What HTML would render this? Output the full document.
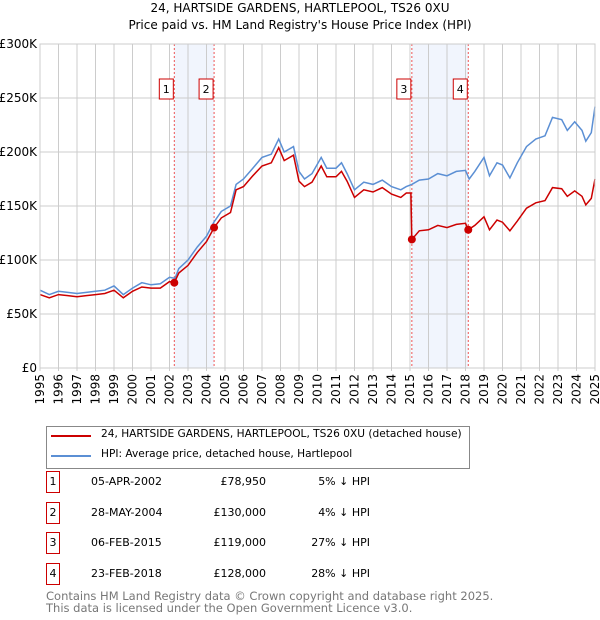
<!DOCTYPE html>
<html><head><meta charset="utf-8"><style>
body{margin:0;background:#fff;font-family:"DejaVu Sans","Liberation Sans",sans-serif;}
#wrap{position:relative;width:600px;height:620px;overflow:hidden}
.t{position:absolute;font-size:11px;color:#000;white-space:nowrap}
.box{position:absolute;border:1px solid #c00;width:12px;height:20px;text-align:center;font-size:11px;line-height:20px}
</style></head><body>
<div id="wrap">
<div class="t" style="left:0;width:600px;text-align:center;top:1px;font-size:12px">24, HARTSIDE GARDENS, HARTLEPOOL, TS26 0XU</div>
<div class="t" style="left:0;width:600px;text-align:center;top:18px;font-size:12px">Price paid vs. HM Land Registry's House Price Index (HPI)</div>
<svg id="chart" width="600" height="420" style="position:absolute;left:0;top:0;font-family:'DejaVu Sans',sans-serif"></svg>
<div style="position:absolute;left:46px;top:426px;width:422px;height:41px;border:1px solid #888"></div>
<div style="position:absolute;left:51px;top:435px;width:40px;height:2px;background:#c00"></div>
<div class="t" style="left:101px;top:428px;font-size:10.6px">24, HARTSIDE GARDENS, HARTLEPOOL, TS26 0XU (detached house)</div>
<div style="position:absolute;left:51px;top:455px;width:40px;height:2px;background:#5b8fd4"></div>
<div class="t" style="left:101px;top:448px;font-size:10.6px">HPI: Average price, detached house, Hartlepool</div>
<div id="tbl"></div>
<div class="t" style="left:46px;top:589px;color:#777;font-size:11.5px">Contains HM Land Registry data © Crown copyright and database right 2025.</div>
<div class="t" style="left:46px;top:601px;color:#777;font-size:11.5px">This data is licensed under the Open Government Licence v3.0.</div>
</div>
<script>
const hpiDates=[1995,1995.5,1996,1996.5,1997,1997.5,1998,1998.5,1999,1999.5,2000,2000.5,2001,2001.5,2002,2002.3,2002.5,2003,2003.5,2004,2004.4,2004.8,2005.3,2005.6,2006,2006.5,2007,2007.5,2007.9,2008.2,2008.7,2009,2009.3,2009.7,2010.2,2010.5,2011,2011.3,2011.6,2012,2012.5,2013,2013.5,2014,2014.5,2014.8,2015.1,2015.5,2016,2016.5,2017,2017.5,2018,2018.2,2018.5,2019,2019.3,2019.7,2020,2020.4,2020.8,2021.3,2021.8,2022.3,2022.7,2023.2,2023.5,2023.9,2024.3,2024.5,2024.8,2025];
const hpiValues=[72,68,71,70,69,70,71,72,76,68,74,79,77,78,84,83,92,100,112,122,135,145,150,170,175,185,195,198,212,200,205,182,175,180,195,185,185,190,180,165,172,170,174,168,165,168,170,174,175,180,178,182,183,175,182,195,178,190,188,176,190,205,212,215,232,230,220,228,220,210,218,242];
const priceDates=[1995,1995.5,1996,1996.5,1997,1997.5,1998,1998.5,1999,1999.5,2000,2000.5,2001,2001.5,2002,2002.26,2002.5,2003,2003.5,2004,2004.41,2004.8,2005.3,2005.6,2006,2006.5,2007,2007.5,2007.9,2008.2,2008.7,2009,2009.3,2009.7,2010.2,2010.5,2011,2011.3,2011.6,2012,2012.5,2013,2013.5,2014,2014.5,2014.8,2015.05,2015.1,2015.5,2016,2016.5,2017,2017.5,2018,2018.15,2018.5,2019,2019.3,2019.7,2020,2020.4,2020.8,2021.3,2021.8,2022.3,2022.7,2023.2,2023.5,2023.9,2024.3,2024.5,2024.8,2025];
const priceValues=[68,65,68,67,66,67,68,69,72,65,71,75,74,74,80,78.95,88,95,107,117,130,139,144,165,168,178,187,190,204,192,197,173,168,172,187,177,177,182,173,158,165,163,167,161,158,162,162,119,127,128,132,130,133,134,128,132,140,128,137,135,127,136,148,153,155,167,166,159,164,159,151,157,175];
const saleLabels=["1","2","3","4"];
const saleDates=[2002.26,2004.41,2015.1,2018.15];
const salePrices=[78950,130000,119000,128000];
const saleDateText=["05-APR-2002","28-MAY-2004","06-FEB-2015","23-FEB-2018"];
const salePriceText=["£78,950","£130,000","£119,000","£128,000"];
const saleDiffText=["5% ↓ HPI","4% ↓ HPI","27% ↓ HPI","28% ↓ HPI"];
const yTicks=[0,50,100,150,200,250,300];
const yTickLabels=["£0","£50K","£100K","£150K","£200K","£250K","£300K"];
const xTicks=[1995,1996,1997,1998,1999,2000,2001,2002,2003,2004,2005,2006,2007,2008,2009,2010,2011,2012,2013,2014,2015,2016,2017,2018,2019,2020,2021,2022,2023,2024,2025];

const X0=40,X1=595,Y0=368,Y1=44;
const xs=d=>X0+(d-1995)/30*(X1-X0);
const ys=v=>Y0-v/300*(Y0-Y1);
const NS="http://www.w3.org/2000/svg";
const svg=document.getElementById('chart');
function mk(tag,attrs){const e=document.createElementNS(NS,tag);for(const k in attrs)e.setAttribute(k,attrs[k]);svg.appendChild(e);return e;}
for(let i=0;i<2;i++){
 const r=mk('rect',{x:xs(saleDates[i*2]),y:Y1,width:xs(saleDates[i*2+1])-xs(saleDates[i*2]),height:Y0-Y1,fill:'#eef3fd',opacity:0.8});
 
 
}
yTicks.forEach((v,i)=>{
 const l=mk('line',{x1:X0,x2:X1,y1:ys(v),y2:ys(v),stroke:'#ccc','stroke-width':1});
 
 
 const t=mk('text',{x:X0-3,y:ys(v)+4,'text-anchor':'end','font-size':12,fill:'#000'});
 t.textContent=yTickLabels[i];
 
 
});
xTicks.forEach(d=>{
 const l=mk('line',{x1:xs(d),x2:xs(d),y1:Y1,y2:Y0+3,stroke:'#ccc','stroke-width':1});
 
 
 const t=mk('text',{x:0,y:0,'text-anchor':'end','font-size':12,fill:'#000',transform:`translate(${xs(d)+4},${Y0+6}) rotate(-90)`});
 t.textContent=d;
 
 
});
saleDates.forEach((d,i)=>{
 const l=mk('line',{x1:xs(d),x2:xs(d),y1:Y1,y2:Y0,stroke:'#e55','stroke-width':1,'stroke-dasharray':'2,2'});
 
 
});
function path(ds,vs,col,name){
 const p=mk('path',{d:ds.map((d,i)=>(i?'L':'M')+xs(d).toFixed(1)+','+ys(vs[i]).toFixed(1)).join(''),fill:'none',stroke:col,'stroke-width':1.5});
 
 
}
path(hpiDates,hpiValues,'#5b8fd4','hpi-line');
path(priceDates,priceValues,'#c00','price-paid-line');
saleDates.forEach((d,i)=>{
 const c=mk('circle',{cx:xs(d),cy:ys(salePrices[i]/1000),r:4,fill:'#c00'});
 
 
 const r=mk('rect',{x:xs(d)-15,y:79,width:14,height:20,fill:'#fff',stroke:'#c00'});
 
 
 const t=mk('text',{x:xs(d)-8,y:93,'text-anchor':'middle','font-size':11});
 t.textContent=saleLabels[i];
 
 
});
mk('rect',{x:X0,y:Y1,width:X1-X0,height:Y0-Y1,fill:'none',stroke:'#ccc'});
const tbl=document.getElementById('tbl');
saleLabels.forEach((s,i)=>{
 const y=471+i*30.5;
 const row=document.createElement('div');
 
 
 row.innerHTML=`<div class="box" style="left:46px;top:${y}px">${s}</div>
<div class="t" style="left:91px;top:${y+4}px">${saleDateText[i]}</div>
<div class="t" style="left:186px;width:80px;text-align:right;top:${y+4}px">${salePriceText[i]}</div>
<div class="t" style="left:290px;width:80px;text-align:right;top:${y+4}px">${saleDiffText[i]}</div>`;
 tbl.appendChild(row);
});
</script>
</body></html>
